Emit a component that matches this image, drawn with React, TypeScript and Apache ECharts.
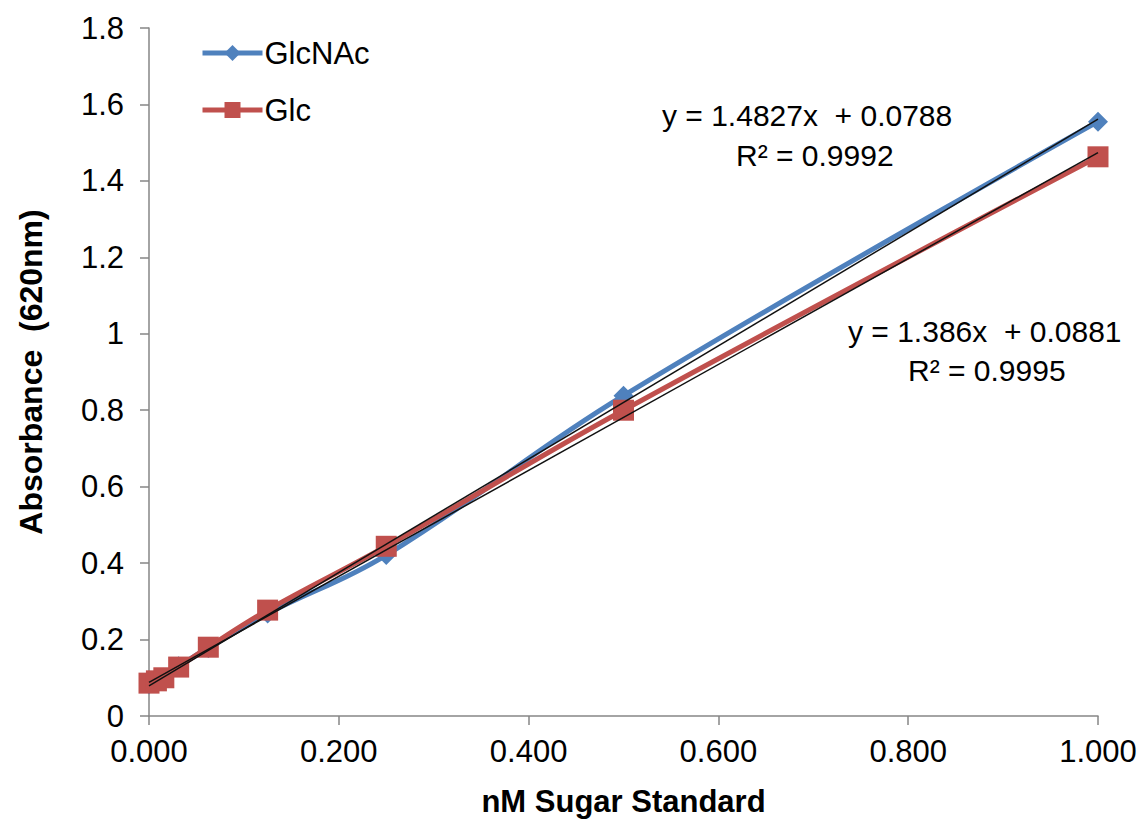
import React, { useEffect, useRef } from "react";
import * as echarts from "echarts";

const xValues = [0, 0.0078125, 0.015625, 0.03125, 0.0625, 0.125, 0.25, 0.5, 1.0];
const glcnacValues = [0.083, 0.09, 0.1, 0.13, 0.178, 0.268, 0.421, 0.838, 1.555];
const glcValues = [0.086, 0.092, 0.1, 0.128, 0.18, 0.277, 0.444, 0.8, 1.463];
const glcnacTrend = { slope: 1.4827, intercept: 0.0788, r2: "0.9992" };
const glcTrend = { slope: 1.386, intercept: 0.0881, r2: "0.9995" };
const trendX = [0, 1];

const BLUE = "#4F81BD";
const RED = "#C0504D";
const FONT = "Liberation Sans, Arial, sans-serif";

export default function App() {
  const ref = useRef<HTMLDivElement>(null);
  useEffect(() => {
    if (!ref.current) return;
    const chart = echarts.init(ref.current, undefined, { renderer: "svg" });
    const pairs = (ys: number[]) => xValues.map((x, i) => [x, ys[i]]);
    const trend = (t: { slope: number; intercept: number }) =>
      trendX.map((x) => [x, t.slope * x + t.intercept]);
    const axisLineStyle = { color: "#868686", width: 1.5 };
    chart.setOption({
      animation: false,
      backgroundColor: "#fff",
      textStyle: { fontFamily: FONT },
      grid: { left: 149, right: 50, top: 28, bottom: 106 },
      legend: {
        data: ["GlcNAc", "Glc"],
        orient: "vertical",
        left: 195,
        top: 32,
        itemWidth: 60,
        itemHeight: 20,
        itemGap: 25,
        lineStyle: { width: 5 },
        textStyle: { fontSize: 31, color: "#000", fontFamily: FONT, lineHeight: 32, padding: [0, 0, 0, -3] },
      },
      xAxis: {
        type: "value",
        min: 0,
        max: 1,
        interval: 0.2,
        name: "nM Sugar Standard",
        nameLocation: "middle",
        nameGap: 70,
        nameTextStyle: { fontSize: 31, fontWeight: "bold", color: "#000", fontFamily: FONT },
        axisLine: { lineStyle: axisLineStyle },
        axisTick: { show: true, length: 9, lineStyle: axisLineStyle },
        splitLine: { show: false },
        axisLabel: {
          fontSize: 31,
          color: "#000",
          margin: 20,
          fontFamily: FONT,
          formatter: (v: number) => v.toFixed(3),
        },
      },
      yAxis: {
        type: "value",
        min: 0,
        max: 1.8,
        interval: 0.2,
        name: "Absorbance  (620nm)",
        nameLocation: "middle",
        nameGap: 102,
        nameTextStyle: { fontSize: 32, fontWeight: "bold", color: "#000", fontFamily: FONT },
        axisLine: { show: true, lineStyle: axisLineStyle },
        axisTick: { show: true, length: 9, lineStyle: axisLineStyle },
        splitLine: { show: false },
        axisLabel: {
          fontSize: 31,
          color: "#000",
          margin: 25,
          fontFamily: FONT,
          formatter: (v: number) => String(+v.toFixed(1)),
        },
      },
      series: [
        {
          name: "GlcNAc",
          type: "line",
          data: pairs(glcnacValues),
          smooth: 0.4,
          symbol: "diamond",
          symbolSize: 20,
          itemStyle: { color: BLUE },
          lineStyle: { color: BLUE, width: 5 },
          z: 2,
        },
        {
          name: "Glc",
          type: "line",
          data: pairs(glcValues),
          smooth: 0.4,
          symbol: "rect",
          symbolSize: 21,
          itemStyle: { color: RED },
          lineStyle: { color: RED, width: 5 },
          z: 3,
        },
        {
          name: "GlcNAc trend",
          type: "line",
          data: trend(glcnacTrend),
          symbol: "none",
          lineStyle: { color: "#111", width: 1.5 },
          z: 5,
          silent: true,
        },
        {
          name: "Glc trend",
          type: "line",
          data: trend(glcTrend),
          symbol: "none",
          lineStyle: { color: "#111", width: 1.5 },
          z: 5,
          silent: true,
        },
      ],
      graphic: [
        {
          type: "text",
          left: 662,
          top: 100,
          style: {
            text: `y = ${glcnacTrend.slope}x  + ${glcnacTrend.intercept}`,
            fontSize: 30,
            fill: "#000",
            fontFamily: FONT,
          },
        },
        {
          type: "text",
          left: 736,
          top: 140,
          style: { text: `R² = ${glcnacTrend.r2}`, fontSize: 30, fill: "#000", fontFamily: FONT },
        },
        {
          type: "text",
          left: 848,
          top: 316,
          style: {
            text: `y = ${glcTrend.slope}x  + ${glcTrend.intercept}`,
            fontSize: 30,
            fill: "#000",
            fontFamily: FONT,
          },
        },
        {
          type: "text",
          left: 908,
          top: 355,
          style: { text: `R² = ${glcTrend.r2}`, fontSize: 30, fill: "#000", fontFamily: FONT },
        },
      ],
    });
    return () => chart.dispose();
  }, []);
  return (
    <div
      ref={ref}
      style={{ position: "fixed", left: 0, top: 0, width: 1148, height: 822, background: "#fff" }}
    />
  );
}
